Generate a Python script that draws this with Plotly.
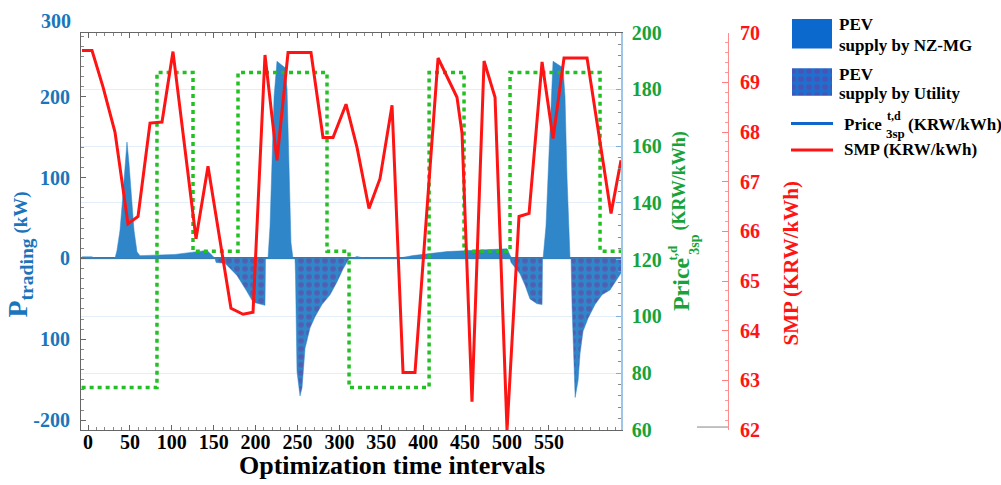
import plotly.graph_objects as go

# ---------------- data ----------------
x_ticks = [0, 50, 100, 150, 200, 250, 300, 350, 400, 450, 500, 550]
p_ticks = [-200, -100, 0, 100, 200]
p_ticktext = ["-200", "100", "0", "100", "200"]

# PEV supply by NZ-MG (positive trading power, kW)
nz_x = [-7.2, 4.8, 8.4, 32.2, 34.6, 38.2, 41.8, 44.2, 46.5, 48.9, 51.3, 54.9, 58.5, 62.1,
        103.8, 142.0, 148.0, 151.6, 214.8, 217.2, 219.6, 222.0, 225.5, 235.1, 237.5, 239.9,
        242.2, 244.6, 315.0, 321.0, 330.5, 368.7, 387.8, 428.4, 500.0, 503.6, 506.0, 543.0,
        546.5, 550.1, 552.5, 554.9, 566.8, 569.2, 571.6, 574.0, 575.2, 636.0]
nz_y = [2, 2, 0, 0, 10, 35, 80, 115, 144, 118, 80, 35, 8, 3.5,
        5, 10, 4, 0, 0, 40, 120, 200, 244, 236, 210, 100,
        20, 0, 0, 2.5, 0, 0, 3.6, 8.5, 12, 4, 0, 0,
        40, 130, 200, 244, 236, 200, 100, 20, 0, 0]

# PEV supply by Utility (negative trading power, kW)
ut_x = [151.6, 152.8, 163.5, 177.8, 189.7, 196.9, 211.2, 211.8, 247.0, 247.6, 249.4, 253.0,
        255.4, 259.0, 264.9, 270.9, 279.2, 288.8, 297.1, 304.3, 311.5, 503.6, 504.8, 515.5,
        521.5, 527.4, 535.8, 541.8, 542.4, 576.4, 577.6, 581.3, 584.8, 587.1, 590.7, 596.7,
        605.0, 613.4, 622.9, 631.3, 636.0]
ut_y = [0, -5, -6, -21, -41, -54, -58, 0, 0, -20, -140, -170,
        -160, -111, -86, -72, -57, -45, -29, -13, 0, 0, -5, -19,
        -33, -50, -56, -57, 0, 0, -60, -172, -151, -118, -90, -74,
        -57, -45, -39, -25, -18]

# Price_3sp^{t,d} (KRW/kWh), step changes
price_x = [-7.6, 82.3, 125.3, 179.0, 285.2, 311.5, 407.0, 448.7, 503.6, 611.0, 636.0]
price_y = [75, 186, 123, 186, 123, 75, 186, 123, 186, 123, 123]

# SMP (KRW/kWh)
smp_x = [-7.2, 4.8, 17.9, 32.2, 47.7, 59.7, 74.0, 88.3, 101.4, 128.9, 143.2, 170.6, 185.0,
         196.9, 211.2, 225.5, 238.7, 266.1, 280.4, 292.4, 307.9, 321.0, 335.3, 348.4, 362.8,
         375.9, 390.2, 408.1, 417.7, 440.3, 446.3, 458.2, 472.6, 485.7, 500.0, 514.3, 526.3,
         541.8, 554.9, 568.0, 595.5, 624.1, 636.0]
smp_y = [69.64, 69.64, 68.91, 68.00, 66.15, 66.30, 68.18, 68.20, 69.62, 65.85, 67.31, 64.45, 64.33,
         64.37, 69.55, 67.43, 69.60, 69.60, 67.89, 67.89, 68.56, 67.69, 66.46, 67.06, 68.54,
         63.16, 63.16, 67.19, 69.49, 68.70, 67.98, 62.57, 69.43, 68.70, 62.00, 66.30, 66.36,
         69.41, 67.87, 69.49, 69.49, 66.36, 67.43]

# ---------------- styling ----------------
SERIF = "Times New Roman"
BLUE_BAR = "#2f86c9"
PURPLE = "#6f379c"
GREEN = "#22c022"
GREEN_TXT = "#17a33a"
RED = "#ff1414"
BLUE_TXT = "#1a75bb"

W, H = 1001, 485
ML, MR, MT, MB = 81, 0, 5, 55
PW = W - ML - MR
PH = H - MT - MB


def px_x(p):
    return (p - ML) / PW


def px_y(p):
    return (H - MB - p) / PH


main_dom_x = [0, px_x(621)]
main_dom_y = [0, px_y(27)]

fig = go.Figure()

fig.add_trace(go.Scatter(
    x=nz_x, y=nz_y, mode="lines", fill="tozeroy",
    line=dict(color=BLUE_BAR, width=0.5), fillcolor=BLUE_BAR,
    xaxis="x", yaxis="y", showlegend=False, hoverinfo="skip"))

fig.add_trace(go.Scatter(
    x=ut_x, y=ut_y, mode="lines", fill="tozeroy",
    line=dict(color=BLUE_BAR, width=0.5), fillcolor=BLUE_BAR,
    fillpattern=dict(shape=".", fgcolor=PURPLE, bgcolor=BLUE_BAR, size=8, solidity=0.4),
    xaxis="x", yaxis="y", showlegend=False, hoverinfo="skip"))

fig.add_trace(go.Scatter(
    x=price_x, y=price_y, mode="lines", line_shape="hv",
    line=dict(color=GREEN, width=3.5, dash="4px,4px"),
    xaxis="x", yaxis="y2", showlegend=False, hoverinfo="skip"))

fig.add_trace(go.Scatter(
    x=smp_x, y=smp_y, mode="lines",
    line=dict(color=RED, width=3),
    xaxis="x", yaxis="y3", showlegend=False, hoverinfo="skip"))

# ---------- custom legend on an auxiliary axis (pixel-like units) ----------
leg_rect_x = [792, 832, 832, 792, 792]
fig.add_trace(go.Scatter(
    x=leg_rect_x, y=[13, 13, 43, 43, 13], mode="lines", fill="toself",
    fillcolor="#0b68cc", line=dict(width=0, color="#0b68cc"),
    xaxis="x2", yaxis="y4", showlegend=False, hoverinfo="skip"))
fig.add_trace(go.Scatter(
    x=leg_rect_x, y=[63, 63, 91, 91, 63], mode="lines", fill="toself",
    fillcolor="#1f6fcf", line=dict(width=0, color="#1f6fcf"),
    fillpattern=dict(shape=".", fgcolor=PURPLE, bgcolor="#1f6fcf", size=8, solidity=0.4),
    xaxis="x2", yaxis="y4", showlegend=False, hoverinfo="skip"))
fig.add_trace(go.Scatter(
    x=[791, 833], y=[119, 119], mode="lines", line=dict(color="#1166cc", width=3),
    xaxis="x2", yaxis="y4", showlegend=False, hoverinfo="skip"))
fig.add_trace(go.Scatter(
    x=[791, 833], y=[146, 146], mode="lines", line=dict(color=RED, width=3),
    xaxis="x2", yaxis="y4", showlegend=False, hoverinfo="skip"))


def tf(color, size=20):
    return dict(family=SERIF, size=size, color=color, weight="bold")


fig.update_layout(
    width=W, height=H,
    margin=dict(l=ML, r=MR, t=MT, b=MB),
    paper_bgcolor="white", plot_bgcolor="white",
    showlegend=False,
    font=dict(family=SERIF),
    xaxis=dict(
        domain=main_dom_x, range=[-8.35, 636], anchor="y",
        tickmode="array", tickvals=x_ticks,
        ticks="inside", ticklen=5, tickcolor="#666",
        minor=dict(dtick=10, tick0=0, ticks="inside", ticklen=3, tickcolor="#888"),
        showline=True, linecolor="#666", linewidth=1.2, mirror="ticks",
        showgrid=False, zeroline=False,
        tickfont=tf("black"), ticklabelstandoff=-6),
    yaxis=dict(
        domain=main_dom_y, range=[-212.2, 279.3], anchor="x",
        tickmode="array", tickvals=p_ticks, ticktext=p_ticktext,
        ticks="inside", ticklen=5, tickcolor="#666",
        minor=dict(dtick=12.5, tick0=0, ticks="inside", ticklen=3, tickcolor="#888"),
        showline=True, linecolor="#666", linewidth=1.2,
        showgrid=False, zeroline=True, zerolinecolor="#4d7394", zerolinewidth=1.5,
        tickfont=tf(BLUE_TXT), ticklabelstandoff=6),
    yaxis2=dict(
        domain=main_dom_y, overlaying="y", side="right", anchor="x",
        range=[60, 200], dtick=20, tick0=60,
        ticks="inside", ticklen=5, tickcolor="#7fb0dd",
        minor=dict(dtick=4, tick0=60, ticks="inside", ticklen=3, tickcolor="#888",
                   showgrid=False),
        showline=True, linecolor="#9ec6ea", linewidth=1.5,
        showgrid=True, gridcolor="#e3eef9", gridwidth=1, zeroline=False,
        tickfont=tf(GREEN_TXT), ticklabelstandoff=5),
    yaxis3=dict(
        domain=main_dom_y, overlaying="y", side="right", anchor="free",
        position=px_x(728), range=[62, 70], dtick=1, tick0=62,
        ticks="inside", ticklen=6, tickcolor="#ff8080",
        minor=dict(dtick=0.2, tick0=62, ticks="inside", ticklen=3, tickcolor="#ff9a9a"),
        showline=True, linecolor="#ff8c8c", linewidth=1.2,
        showgrid=False, zeroline=False,
        tickfont=tf(RED), ticklabelstandoff=7),
    xaxis2=dict(domain=[px_x(781), 1], range=[781, 1001], anchor="y4", visible=False,
                fixedrange=True),
    yaxis4=dict(domain=[px_y(170), 1], range=[170, 5], anchor="x2", visible=False,
                fixedrange=True),
)

# small grey base line of the SMP axis
fig.add_shape(type="line", xref="paper", yref="paper",
              x0=px_x(697), x1=px_x(728), y0=px_y(427), y1=px_y(427),
              line=dict(color="#999", width=1.2))


def rot(text, xp, yp, color, size):
    return dict(text=text, xref="paper", yref="paper", x=px_x(xp), y=px_y(yp),
                xanchor="center", yanchor="middle", textangle=-90,
                showarrow=False, font=tf(color, size))


def leg(text, xp, yp, size=17):
    return dict(text=text, xref="x2", yref="y4", x=xp, y=yp, xanchor="left",
                yanchor="middle", showarrow=False, font=tf("black", size))


annotations = [
    # left axis extra label
    dict(text="300", xref="paper", yref="paper", x=px_x(73), y=px_y(15),
         xanchor="right", yanchor="middle", showarrow=False, font=tf(BLUE_TXT)),
    # x title
    dict(text="Optimization time intervals", xref="paper", yref="paper",
         x=px_x(392), y=px_y(466), xanchor="center", yanchor="middle",
         showarrow=False, font=tf("black", 26)),
    # left title
    rot("P<sub>trading</sub><span style='font-size:19px'> (kW)</span>", 20, 252, BLUE_TXT, 28),
    # green title (stacked pieces)
    rot("Price", 681, 282, GREEN_TXT, 24),
    rot("t,d", 673, 250, GREEN_TXT, 13),
    rot("3sp", 695, 242, GREEN_TXT, 14),
    rot("(KRW/kWh)", 680, 178, GREEN_TXT, 18),
    # red title
    rot("SMP (KRW/kWh)", 791, 261, RED, 21),
    # legend texts
    leg("PEV", 837, 19),
    leg("supply by NZ-MG", 837, 40),
    leg("PEV", 837, 69),
    leg("supply by Utility", 837, 89),
    leg("Price", 842, 120),
    leg("t,d", 885, 112, 12),
    leg("3sp", 884, 129, 13),
    leg("(KRW/kWh)", 906, 120),
    leg("SMP (KRW/kWh)", 842, 145),
]
fig.update_layout(annotations=annotations)

fig.write_html("out.html")
